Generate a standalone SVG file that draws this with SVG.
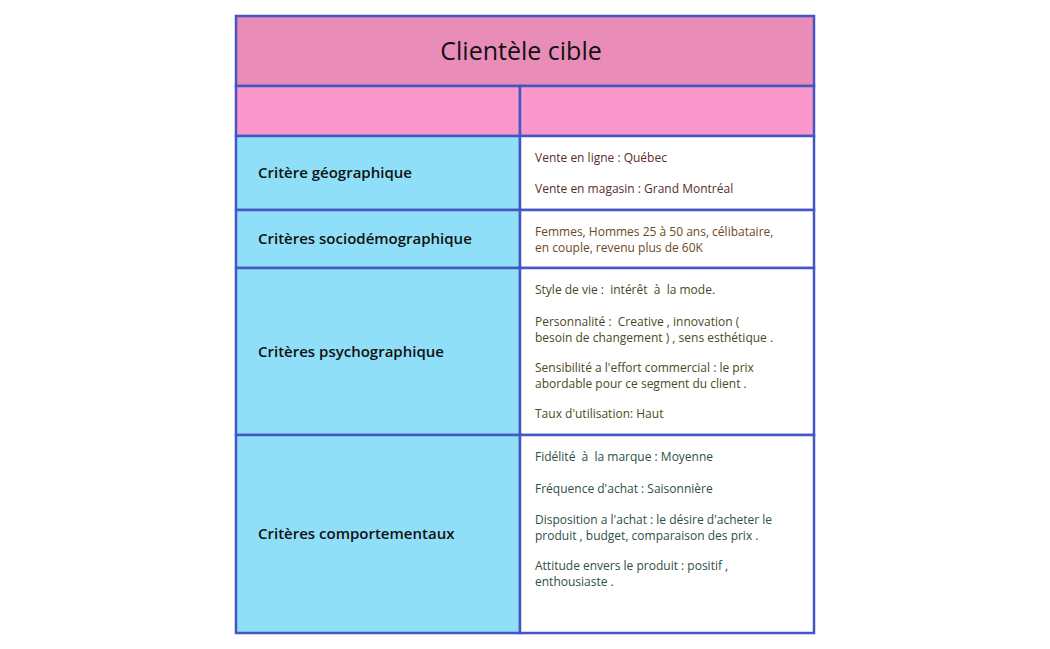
<svg xmlns="http://www.w3.org/2000/svg" width="1050" height="649" viewBox="0 0 1050 649">
<style>
.b{stroke:#4455c4;stroke-width:2.5}
.l{font-family:"Open Sans","Liberation Sans",sans-serif;font-size:15px;font-weight:600;fill:#111}
.r{font-family:"Open Sans","Liberation Sans",sans-serif;font-size:12px}
</style>
<rect width="1050" height="649" fill="#fff"/>
<g id="title"><rect x="236" y="16" width="578" height="70" fill="#e98db8" class="b"/>
<text x="521" y="60" text-anchor="middle" font-family="'Open Sans','Liberation Sans',sans-serif" font-size="25" font-weight="500" fill="#111">Clientèle cible</text></g>
<g id="hdr"><rect x="236" y="86" width="284" height="50" fill="#fb98cb" class="b"/><rect x="520" y="86" width="294" height="50" fill="#fb98cb" class="b"/></g>
<g id="r1"><rect x="236" y="136" width="284" height="74" fill="#90dff8" class="b"/><rect x="520" y="136" width="294" height="74" fill="#fff" class="b"/>
<text class="l" x="258" y="178">Critère géographique</text>
<text class="r" fill="#5a2e2a" x="535" y="162">Vente en ligne : Québec</text>
<text class="r" fill="#5a2e2a" x="535" y="193">Vente en magasin : Grand Montréal</text></g>
<g id="r2"><rect x="236" y="210" width="284" height="58" fill="#90dff8" class="b"/><rect x="520" y="210" width="294" height="58" fill="#fff" class="b"/>
<text class="l" x="258" y="244">Critères sociodémographique</text>
<text class="r" fill="#6b4a22" x="535" y="236">Femmes, Hommes 25 à 50 ans, célibataire,</text>
<text class="r" fill="#6b4a22" x="535" y="252">en couple, revenu plus de 60K</text></g>
<g id="r3"><rect x="236" y="268" width="284" height="167" fill="#90dff8" class="b"/><rect x="520" y="268" width="294" height="167" fill="#fff" class="b"/>
<text class="l" x="258" y="357">Critères psychographique</text>
<g class="r" fill="#4a4a22">
<text x="535" y="294" xml:space="preserve">Style de vie :  intérêt  à  la mode.</text>
<text x="535" y="326" xml:space="preserve">Personnalité :  Creative , innovation (</text>
<text x="535" y="342">besoin de changement ) , sens esthétique .</text>
<text x="535" y="372">Sensibilité a l'effort commercial : le prix</text>
<text x="535" y="388">abordable pour ce segment du client .</text>
<text x="535" y="418">Taux d'utilisation: Haut</text></g></g>
<g id="r4"><rect x="236" y="435" width="284" height="198" fill="#90dff8" class="b"/><rect x="520" y="435" width="294" height="198" fill="#fff" class="b"/>
<text class="l" x="258" y="539">Critères comportementaux</text>
<g class="r" fill="#2e4f45">
<text x="535" y="461" xml:space="preserve">Fidélité  à  la marque : Moyenne</text>
<text x="535" y="493">Fréquence d'achat : Saisonnière</text>
<text x="535" y="524">Disposition a l'achat : le désire d'acheter le</text>
<text x="535" y="540">produit , budget, comparaison des prix .</text>
<text x="535" y="570">Attitude envers le produit : positif ,</text>
<text x="535" y="586">enthousiaste .</text></g></g>
</svg>
